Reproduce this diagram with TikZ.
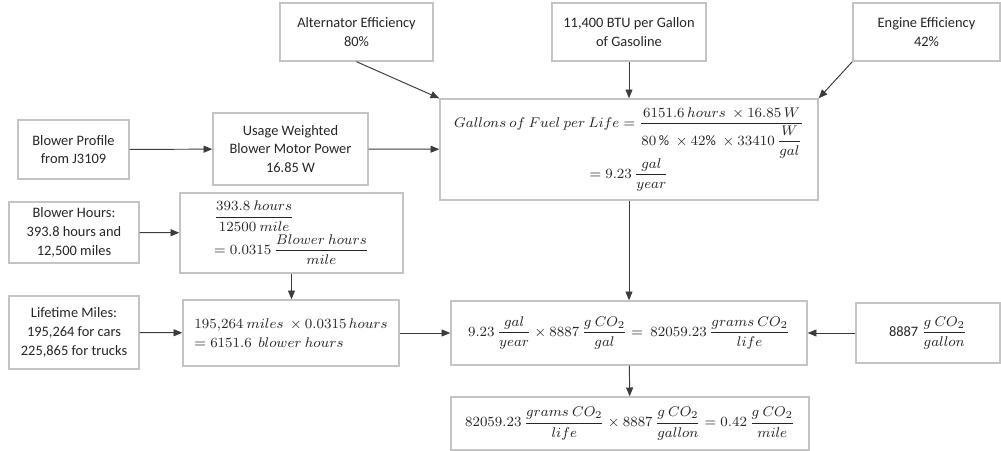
\documentclass[tikz,border=0pt]{standalone}
\usepackage{amsmath}
\usepackage{fontspec}
\setmainfont{Carlito}
\usepackage{tikz}
\usetikzlibrary{arrows.meta, positioning}

\definecolor{boxgray}{RGB}{196,196,196}
\definecolor{linkgray}{RGB}{60,60,60}

\begin{document}
\begin{tikzpicture}[x=0.2mm, y=-0.2mm,
    font=\fontsize{8.2}{10.6}\selectfont,
    box/.style={draw=boxgray, line width=0.8pt, align=center, inner sep=2pt, text=black!85},
    link/.style={draw=linkgray, line width=0.55pt, -{Triangle[length=5pt,width=4pt]}}]
      \useasboundingbox (0,0) rectangle (1001,451);

      % inputs along the top
      \node[box, minimum width=3.06cm, minimum height=1.16cm] (alt) at (356.5,32) {Alternator Efficiency\\80\%};
      \node[box, minimum width=3.08cm, minimum height=1.16cm] (btu) at (629,32) {11,400 BTU per Gallon\\of Gasoline};
      \node[box, minimum width=2.94cm, minimum height=1.16cm] (eng) at (926.5,32) {Engine Efficiency\\42\%};

      % fuel use
      \node[box, minimum width=7.56cm, minimum height=2.02cm] (gal) at (629,149.5)
        {$Gallons\ of\ Fuel\ per\ Life=\dfrac{6151.6\,hours\ \times 16.85\,W}{80\,\%\ \times 42\%\ \times 33410\,\dfrac{W}{gal}}$\\[-1pt]
         $=9.23\,\dfrac{gal}{year}$};
      \node[box, minimum width=2.22cm, minimum height=1.18cm] (prof) at (73.5,149.5) {Blower Profile\\from J3109};
      \node[box, minimum width=3.1cm, minimum height=1.44cm] (usage) at (290.5,149) {Usage Weighted\\Blower Motor Power\\16.85 W};

      % blower hours
      \node[box, minimum width=2.6cm, minimum height=1.22cm] (bhours) at (74,232.5) {Blower Hours:\\393.8 hours and\\12,500 miles};
      \node[box, minimum width=4.46cm, minimum height=1.6cm, align=left] (rate) at (291.5,233)
        {$\dfrac{393.8\ hours}{12500\ mile}$\\[1pt]
         $=0.0315\,\dfrac{Blower\ hours}{mile}$};
      \node[box, minimum width=2.6cm, minimum height=1.46cm] (life) at (74,332.5) {Lifetime Miles:\\195,264 for cars\\225,865 for trucks};
      \node[box, minimum width=4.32cm, minimum height=1.32cm, align=left] (total) at (291,333)
        {$195{,}264\ miles\ \times 0.0315\,hours$\\
         $=6151.6\ \ blower\ hours$};

      % CO2 results
      \node[box, minimum width=7.12cm, minimum height=1.28cm] (co2) at (629,333)
        {$9.23\,\dfrac{gal}{year}\times 8887\,\dfrac{g\ CO_2}{gal}=\ 82059.23\,\dfrac{grams\ CO_2}{life}$};
      \node[box, minimum width=2.88cm, minimum height=1.2cm] (fac) at (928,333) {8887 $\dfrac{g\ CO_2}{gallon}$};
      \node[box, minimum width=7.16cm, minimum height=1.06cm] (fin) at (630,423.5)
        {$82059.23\,\dfrac{grams\ CO_2}{life}\times 8887\,\dfrac{g\ CO_2}{gallon}=0.42\,\dfrac{g\ CO_2}{mile}$};

      \draw[link] (alt.south) -- (gal.north west);
      \draw[link] (btu.south) -- (gal.north);
      \draw[link] (eng.south west) -- (gal.north east);
      \draw[link] (prof) -- (usage);
      \draw[link] (usage) -- (gal);
      \draw[link] (bhours) -- (rate);
      \draw[link] (rate.south) -- (rate.south |- total.north);
      \draw[link] (life) -- (total);
      \draw[link] (total) -- (co2);
      \draw[link] (gal) -- (co2);
      \draw[link] (fac) -- (co2);
      \draw[link] (co2) -- (fin);
\end{tikzpicture}
\end{document}
